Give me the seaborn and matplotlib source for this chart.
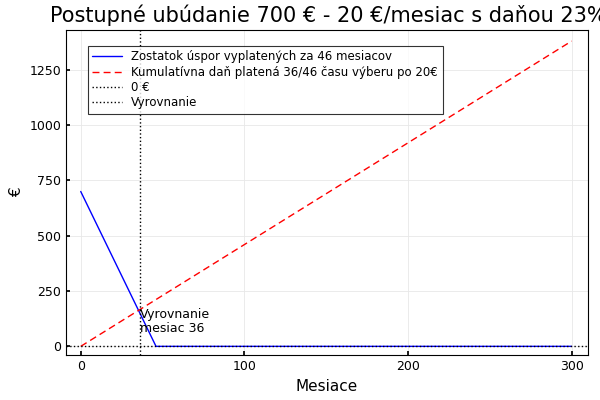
import matplotlib
matplotlib.use("Agg")
import matplotlib.pyplot as plt
import seaborn as sns

# values
balance_months = [0, 46, 300]
balance_eur = [700, 0, 0]
tax_months = [0, 300]
tax_eur = [0, 1380]
breakeven_month = 36

sns.set_theme(style="white")
plt.rcParams["font.family"] = ["DejaVu Sans"]
plt.rcParams["text.color"] = "black"
plt.rcParams["axes.labelcolor"] = "black"
plt.rcParams["xtick.color"] = "black"
plt.rcParams["ytick.color"] = "black"

fig = plt.figure(figsize=(6, 4), dpi=100)
ax = fig.add_axes([0.11, 0.112, 0.87, 0.813])

sns.lineplot(x=balance_months, y=balance_eur, ax=ax, color="blue", lw=1,
             label="Zostatok úspor vyplatených za 46 mesiacov")
sns.lineplot(x=tax_months, y=tax_eur, ax=ax, color="red", lw=1,
             label="Kumulatívna daň platená 36/46 času výberu po 20€")
ax.lines[1].set_linestyle((0, (5, 3)))
ax.axhline(0, color="black", ls=":", lw=1, label="0 €")
ax.axvline(breakeven_month, color="black", ls=":", lw=1, label="Vyrovnanie")
ax.text(breakeven_month, 112, "Vyrovnanie\nmesiac 36", fontsize=9,
        ha="left", va="center", linespacing=1.1)

ax.set_xlim(-9, 310)
ax.set_ylim(-40, 1430)
ax.set_xticks([0, 100, 200, 300])
ax.set_yticks([0, 250, 500, 750, 1000, 1250])
ax.grid(True, color="#e8e8e8", lw=0.6)
for s in ax.spines.values():
    s.set_color("black")
    s.set_linewidth(0.8)
ax.tick_params(labelsize=9, length=3, direction="in", left=True, bottom=True)
ax.set_xlabel("Mesiace", fontsize=11)
ax.set_ylabel("€", fontsize=11)
fig.text(0.083, 0.945, "Postupné ubúdanie 700 € - 20 €/mesiac s daňou 23%",
         fontsize=15, ha="left")

leg = ax.legend(loc="upper left", bbox_to_anchor=(0.03, 0.97), fontsize=8.5,
                frameon=True, fancybox=False, edgecolor="black",
                handlelength=2.5, borderpad=0.4, labelspacing=0.2)
leg.get_frame().set_linewidth(0.8)

fig.savefig("out.png", dpi=100)
